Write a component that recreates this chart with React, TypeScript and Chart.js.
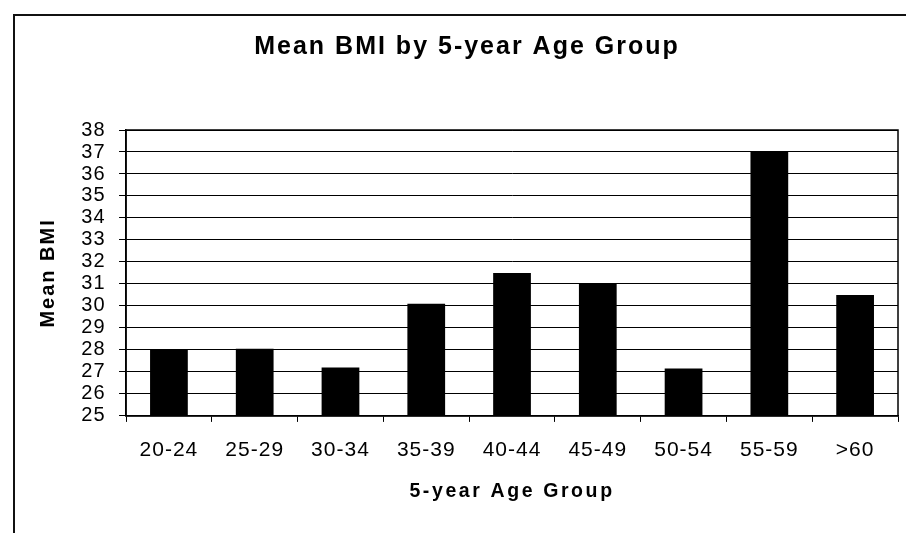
import React, { useEffect, useRef } from "react";
import { Chart, registerables } from "chart.js";

Chart.register(...registerables);

const categories = ["20-24", "25-29", "30-34", "35-39", "40-44", "45-49", "50-54", "55-59", ">60"];
const meanBMI = [28.0, 28.05, 27.2, 30.1, 31.5, 31.0, 27.15, 37.0, 30.5];
const yMin = 25;
const yMax = 38;
const yStep = 1;
const chartTitle = "Mean BMI by 5-year Age Group";
const xTitle = "5-year Age Group";
const yTitle = "Mean BMI";

const FONT = "'Liberation Sans', Arial, Helvetica, sans-serif";

function withSpacing(chart: any, obj: any, key: string, ls: string) {
  if (!obj || obj["__ls_" + key]) return;
  const orig = obj[key];
  obj[key] = function (...args: any[]) {
    const ctx: any = chart.ctx;
    const prev = ctx.letterSpacing;
    ctx.letterSpacing = ls;
    try {
      return orig.apply(this, args);
    } finally {
      ctx.letterSpacing = prev;
    }
  };
  obj["__ls_" + key] = true;
}

const spacingPlugin = {
  id: "spacingPlugin",
  beforeDraw(chart: any) {
    withSpacing(chart, chart.titleBlock, "draw", "2px");
    withSpacing(chart, chart.scales.x, "drawTitle", "2.6px");
    withSpacing(chart, chart.scales.y, "drawTitle", "2px");
    withSpacing(chart, chart.scales.x, "drawLabels", "1px");
    withSpacing(chart, chart.scales.y, "drawLabels", "1px");
  },
};

const framePlugin = {
  id: "framePlugin",
  afterDatasetsDraw(chart: any) {
    const { ctx, chartArea } = chart;
    ctx.save();
    ctx.strokeStyle = "#000";
    ctx.lineWidth = 1.5;
    ctx.strokeRect(chartArea.left, chartArea.top, chartArea.right - chartArea.left, chartArea.bottom - chartArea.top);
    ctx.restore();
  },
};

export default function App() {
  const ref = useRef<HTMLCanvasElement | null>(null);

  useEffect(() => {
    if (!ref.current) return;
    const chart = new Chart(ref.current, {
      type: "bar",
      data: {
        labels: categories,
        datasets: [
          {
            data: meanBMI,
            backgroundColor: "#000",
            borderWidth: 0,
            barPercentage: 0.44,
            categoryPercentage: 1,
          },
        ],
      },
      options: {
        responsive: false,
        animation: false,
        events: [],
        layout: { padding: { left: 36, right: 8, top: 32, bottom: 30 } },
        plugins: {
          legend: { display: false },
          tooltip: { enabled: false },
          title: {
            display: true,
            text: chartTitle,
            color: "#000",
            font: { family: FONT, size: 25, weight: "bold" },
            padding: { top: 0, bottom: 68 },
          },
        },
        scales: {
          x: {
            offset: true,
            grid: {
              display: true,
              offset: true,
              drawOnChartArea: false,
              drawTicks: true,
              tickLength: 6,
              color: "#000",
              lineWidth: 1,
            },
            border: { display: true, color: "#000", width: 1.5 },
            ticks: {
              color: "#000",
              font: { family: FONT, size: 21, lineHeight: 1.1 },
              padding: 17,
              maxRotation: 0,
              autoSkip: false,
            },
            title: {
              display: true,
              text: xTitle,
              color: "#000",
              font: { family: FONT, size: 19.5, weight: "bold" },
              padding: { top: 0.6, bottom: 0 },
            },
          },
          y: {
            min: yMin,
            max: yMax,
            grid: {
              color: "#000",
              lineWidth: 1,
              drawTicks: true,
              tickLength: 7,
            },
            border: { display: true, color: "#000", width: 1.5 },
            ticks: {
              stepSize: yStep,
              autoSkip: false,
              color: "#000",
              font: { family: FONT, size: 20 },
              padding: 13.5,
            },
            title: {
              display: true,
              text: yTitle,
              color: "#000",
              font: { family: FONT, size: 20, weight: "bold" },
              padding: { top: 0, bottom: 9.8 },
            },
          },
        },
      },
      plugins: [spacingPlugin, framePlugin],
    });
    return () => chart.destroy();
  }, []);

  return (
    <div
      style={{
        position: "fixed",
        left: 0,
        top: 0,
        width: 906,
        height: 533,
        overflow: "hidden",
        background: "#fff",
      }}
    >
      <div
        style={{
          position: "absolute",
          left: 13,
          top: 14,
          width: 1000,
          height: 1000,
          borderTop: "2px solid #111",
          borderLeft: "2px solid #111",
        }}
      />
      <canvas ref={ref} width={906} height={533} style={{ position: "absolute", left: 0, top: 0 }} />
    </div>
  );
}
